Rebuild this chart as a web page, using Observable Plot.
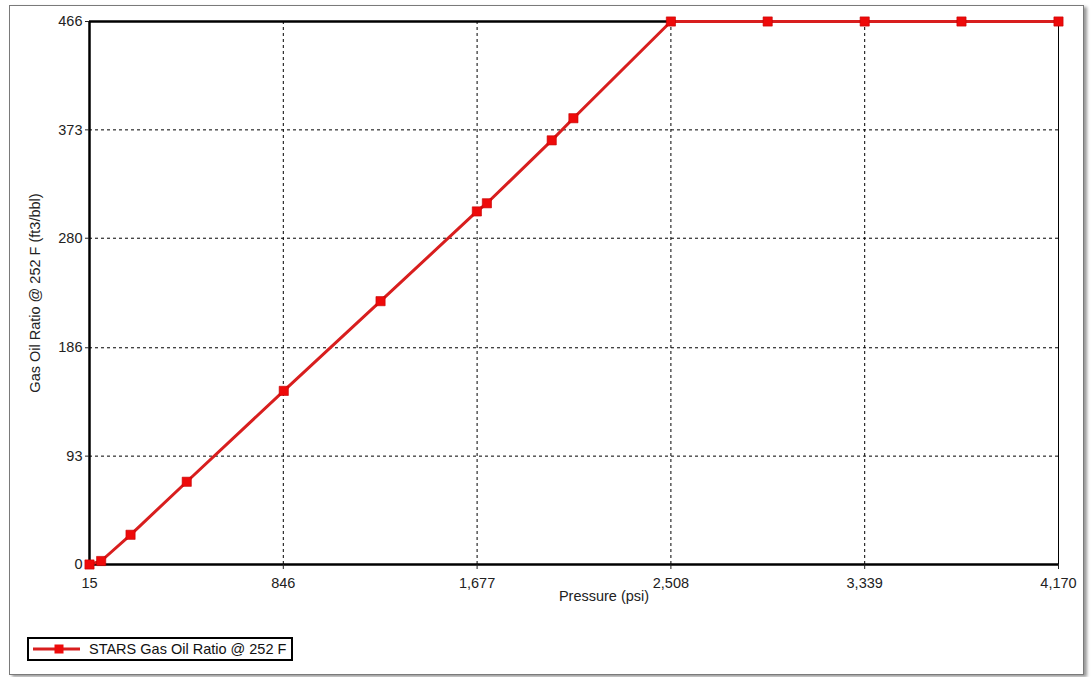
<!DOCTYPE html>
<html>
<head>
<meta charset="utf-8">
<script src="https://cdn.jsdelivr.net/npm/d3@7"></script>
<script src="https://cdn.jsdelivr.net/npm/@observablehq/plot@0.6"></script>
<style>
  html, body { margin: 0; padding: 0; background: #fff; }
  #wrap { position: relative; width: 1091px; height: 677px; overflow: hidden; font-family: "Liberation Sans", Arial, sans-serif; }
  #chart { position: absolute; left: 0; top: 0; }
  #outer { position: absolute; left: 9px; top: 5px; width: 1075px; height: 670px; box-sizing: border-box;
           border: 1px solid #7a7a7a; box-shadow: 3px 2px 3px #9a9a9a; pointer-events: none; }
  #legend { position: absolute; left: 27px; top: 637px; width: 266px; height: 24px; box-sizing: border-box;
            border: 2px solid #000; background: #fff; display: flex; align-items: center; }
  #legend span { font-size: 14.5px; color: #111; margin-left: 6px; white-space: nowrap; }
</style>
</head>
<body>
<div id="wrap">
  <div id="chart"></div>
  <div id="legend"></div>
  <div id="outer"></div>
</div>
<script>
// ---- data ----
const seriesName = "STARS Gas Oil Ratio @ 252 F";
const pressure    = [15, 65, 191, 432, 848, 1263, 1676, 1719, 1997, 2090, 2508, 2923, 3339, 3754, 4170];
const gasOilRatio = [0, 3, 25.5, 71, 149, 226, 303, 310, 364, 383, 466, 466, 466, 466, 466];
const xTicks = [15, 846, 1677, 2508, 3339, 4170];
const yTicks = [0, 93, 186, 280, 373, 466];
const xLabel = "Pressure (psi)";
const yLabel = "Gas Oil Ratio @ 252 F (ft3/bbl)";

const lineColor = "#d81e1e";
const markerColor = "#ee0a0a";

const rows = pressure.map((p, i) => ({pressure: p, gor: gasOilRatio[i]}));

const chart = Plot.plot({
  width: 1091,
  height: 677,
  marginLeft: 89,
  marginTop: 21,
  marginRight: 33,
  marginBottom: 113,
  style: {background: "transparent", fontFamily: "'Liberation Sans', Arial, sans-serif", fontSize: "14.5px", color: "#222"},
  x: {domain: [xTicks[0], xTicks[xTicks.length - 1]], ticks: xTicks},
  y: {domain: [yTicks[0], yTicks[yTicks.length - 1]], ticks: yTicks},
  marks: [
    Plot.gridX(xTicks, {stroke: "#000", strokeOpacity: 1, strokeDasharray: "3,3", strokeWidth: 1}),
    Plot.gridY(yTicks, {stroke: "#000", strokeOpacity: 1, strokeDasharray: "3,3", strokeWidth: 1}),
    Plot.ruleX([xTicks[xTicks.length - 1]], {stroke: "#000", strokeWidth: 1}),
    Plot.ruleX([xTicks[0]], {stroke: "#000", strokeWidth: 2.5}),
    Plot.ruleY([yTicks[0], yTicks[yTicks.length - 1]], {stroke: "#000", strokeWidth: 2.5}),
    Plot.axisX(xTicks, {tickSize: 5, tickPadding: 8, tickFormat: d3.format(","), label: null, fill: "#222", fontSize: 14.5}),
    Plot.axisY(yTicks, {tickSize: 4, tickPadding: 3, tickFormat: d => String(d), label: null, fill: "#222", fontSize: 14.5}),
    Plot.text([xLabel], {frameAnchor: "bottom", textAnchor: "middle", dx: 30, dy: 36, fill: "#222", fontSize: 14.5}),
    Plot.text([yLabel], {frameAnchor: "left", textAnchor: "middle", dx: -54, rotate: -90, fill: "#222", fontSize: 14.5}),
    Plot.line(rows, {x: "pressure", y: "gor", stroke: lineColor, strokeWidth: 3}),
    Plot.dot(rows, {x: "pressure", y: "gor", symbol: "square", r: 5.2, fill: markerColor, stroke: "#c40000", strokeWidth: 0.6})
  ]
});
document.getElementById("chart").appendChild(chart);

// legend
const legend = document.getElementById("legend");
const ns = "http://www.w3.org/2000/svg";
const ls = document.createElementNS(ns, "svg");
ls.setAttribute("width", 50); ls.setAttribute("height", 14);
ls.style.marginLeft = "4px";
const ln = document.createElementNS(ns, "line");
ln.setAttribute("x1", 0); ln.setAttribute("x2", 47); ln.setAttribute("y1", 7); ln.setAttribute("y2", 7);
ln.setAttribute("stroke", lineColor); ln.setAttribute("stroke-width", 3);
const mk = document.createElementNS(ns, "rect");
mk.setAttribute("x", 21.5); mk.setAttribute("y", 2.5); mk.setAttribute("width", 9); mk.setAttribute("height", 9);
mk.setAttribute("fill", markerColor);
ls.appendChild(ln); ls.appendChild(mk);
legend.appendChild(ls);
const sp = document.createElement("span");
sp.textContent = seriesName;
legend.appendChild(sp);
</script>
</body>
</html>
